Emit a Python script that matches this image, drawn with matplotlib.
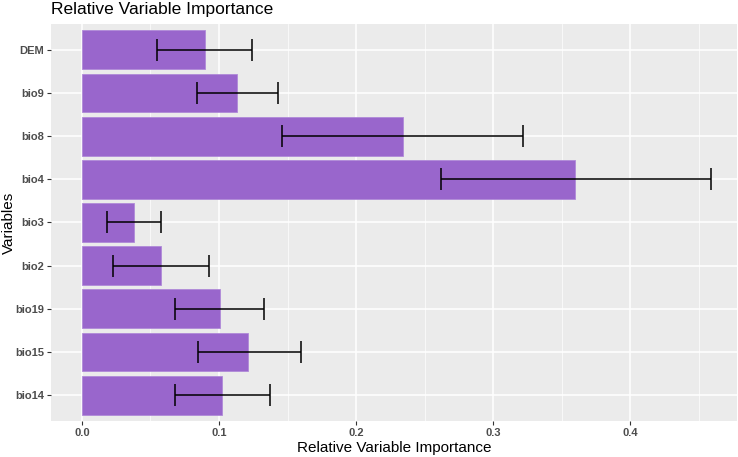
import numpy as np
import matplotlib.pyplot as plt

plt.rcParams['font.family'] = ['Liberation Sans', 'DejaVu Sans']

variables = ["bio14", "bio15", "bio19", "bio2", "bio3", "bio4", "bio8", "bio9", "DEM"]
importance = [0.102, 0.121, 0.101, 0.058, 0.038, 0.360, 0.234, 0.113, 0.090]
err_low = [0.068, 0.085, 0.068, 0.023, 0.018, 0.262, 0.146, 0.084, 0.055]
err_high = [0.137, 0.160, 0.133, 0.093, 0.058, 0.459, 0.322, 0.143, 0.124]
xticks = [0.0, 0.1, 0.2, 0.3, 0.4]

fig = plt.figure(figsize=(7.38, 4.57), dpi=100)
ax = fig.add_axes([0.0691, 0.0788, 0.9295, 0.8687])
ax.set_facecolor("#EBEBEB")
for s in ax.spines.values():
    s.set_visible(False)

y = np.arange(len(variables))
imp = np.array(importance)
ax.barh(y, imp, height=0.9, color="#9966CC", edgecolor="#B08AD8", linewidth=0.6, zorder=2)
xerr = np.vstack([imp - np.array(err_low), np.array(err_high) - imp])
ax.errorbar(imp, y, xerr=xerr, fmt="none", ecolor="black", elinewidth=1.1,
            capsize=8, capthick=1.1, zorder=3)

ax.set_xlim(-0.0226, 0.478)
ax.set_ylim(-0.6, len(variables) - 0.4)
ax.set_xticks(xticks)
ax.set_xticklabels(["%.1f" % t for t in xticks])
ax.set_xticks(np.arange(0.05, 0.48, 0.1), minor=True)
ax.set_yticks(y)
ax.set_yticklabels(variables)
ax.grid(True, which="major", color="white", linewidth=1.1, zorder=0)
ax.grid(True, which="minor", axis="x", color="white", linewidth=0.5, zorder=0)
ax.set_axisbelow(True)
ax.tick_params(axis="both", which="major", length=3, color="#333333",
               labelsize=8, labelcolor="#4D4D4D", pad=2)
ax.tick_params(which="minor", length=0)
for lab in ax.get_xticklabels() + ax.get_yticklabels():
    lab.set_fontweight("bold")

ax.set_xlabel("Relative Variable Importance", fontsize=11, labelpad=2)
fig.text(9 / 738, 0.5 * (0.0788 + 0.9475), "Variables", fontsize=11,
         rotation=90, va="center", ha="center")
fig.text(0.0691, 0.995, "Relative Variable Importance", fontsize=12.5, va="top", ha="left")

fig.savefig("out.png", dpi=100)
